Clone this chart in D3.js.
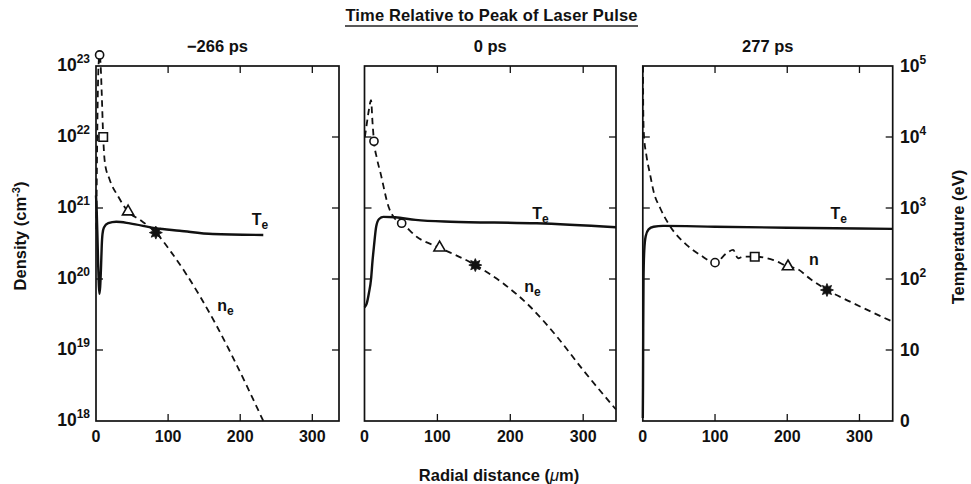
<!DOCTYPE html>
<html><head><meta charset="utf-8">
<script src="https://cdn.jsdelivr.net/npm/d3@7"></script>
<style>
body{margin:0;background:#fff}
text{font-family:"Liberation Sans",Arial,Helvetica,sans-serif;font-weight:bold;fill:#111}
</style>
</head><body>
<svg id="c" width="971" height="484"></svg>
<script>
// ---------------- data ----------------
const mainTitle = "Time Relative to Peak of Laser Pulse";
const panelTitles = ["\u2212266 ps", "0 ps", "277 ps"];
const xTickValues = [0, 100, 200, 300];
const densityExponents = [18, 19, 20, 21, 22, 23];
const tempTickLabels = [["0", ""], ["10", ""], ["10", "2"], ["10", "3"], ["10", "4"], ["10", "5"]];
const xMax = [337, 345, 346];

// electron temperature (eV) vs radial distance (um)
const te266 = [[0,1500],[1,900],[2,400],[3,160],[4,80],[4.8,62],[5.8,78],[7,150],[8,300],[9,430],[11,530],[17,610],[28,640],[47,608],[83,518],[116,479],[162,430],[232,417]];
const te0   = [[0,40],[3,45],[6,63],[9,100],[11,180],[13,290],[16,545],[20,700],[26,750],[42,740],[70,680],[118,641],[236,609],[345,535]];
const te277 = [[0,1.1],[0.3,3],[0.6,20],[1,100],[2,250],[4,400],[8,500],[15,545],[28,560],[100,545],[200,527],[346,508]];

// electron density (cm^-3) vs radial distance (um)
const ne266 = [[0.5,5e20],[1,2e21],[1.6,8e21],[2.5,4e22],[3.5,1e23],[5,1.43e23],[6.5,1e23],[8,4e22],[10,1e22],[12.4,4.3e21],[19,2.5e21],[31,1.44e21],[44.5,8.9e20],[61,6.8e20],[83,4.5e20],[104,2.41e20],[125,1.18e20],[145.6,5.4e19],[166.4,2.28e19],[187,9e18],[208,3.3e18],[232,1e18]];
const ne0   = [[0.5,1e22],[3,1.5e22],[6,2.4e22],[9,3.3e22],[11,1.6e22],[13,8.7e21],[17,5e21],[22,3.1e21],[33,1.04e21],[42,7e20],[51,6.1e20],[72,3.9e20],[103,2.76e20],[152,1.57e20],[190,8.7e19],[227,4.1e19],[264,1.54e19],[300,5.2e18],[345,1.45e18]];
const ne277 = [[0.3,1e23],[0.6,2.5e22],[1.5,1.1e22],[5,5.5e21],[10,3e21],[15,1.7e21],[24,1e21],[38,5.5e20],[61,3e20],[79,2.2e20],[100,1.7e20],[116,2.3e20],[125,2.57e20],[132,1.96e20],[139,2.06e20],[155,2.06e20],[181,1.85e20],[201,1.5e20],[213,1.4e20],[232,1e20],[255,7e19],[287,4.8e19],[346,2.5e19]];

// markers on density curves: [shape, x, density]
const mk266 = [["circle",5,1.43e23],["square",10,1e22],["triangle",44.5,8.9e20],["star",83,4.5e20]];
const mk0   = [["circle",13,8.7e21],["circle",51,6.1e20],["triangle",103,2.76e20],["star",152,1.57e20]];
const mk277 = [["circle",100,1.7e20],["square",155,2.06e20],["triangle",201,1.5e20],["star",255,7e19]];

// curve labels: [main, subscript, x, log10 density]
const lab266 = [["T","e",216,20.76],["n","e",168,19.55]];
const lab0   = [["T","e",230,20.85],["n","e",219,19.81]];
const lab277 = [["T","e",260,20.845],["n","",230,20.2]];

// ---------------- layout ----------------
const svg = d3.select("#c");
const yTop = 66, yBot = 421;
const lefts = [96, 364.5, 642.8], rights = [339, 616, 892.7];
const yDen = d3.scaleLog().domain([1e18, 1e23]).range([yBot, yTop]);
const yTem = d3.scaleLog().domain([1, 1e5]).range([yBot, yTop]);
const FS = 16.5;

const burst = {
  draw(ctx, size) {
    const R = Math.sqrt(size) * 0.62, r = R * 0.55, n = 8;
    for (let i = 0; i < 2 * n; i++) {
      const a = Math.PI * i / n, rr = i % 2 ? r : R;
      const px = rr * Math.sin(a), py = -rr * Math.cos(a);
      i ? ctx.lineTo(px, py) : ctx.moveTo(px, py);
    }
    ctx.closePath();
  }
};
const shapes = {circle: [d3.symbolCircle, 52], square: [d3.symbolSquare, 72], triangle: [d3.symbolTriangle, 55], star: [burst, 110]};

// main title
svg.append("text").attr("x", 491.5).attr("y", 20.5).attr("text-anchor", "middle")
  .attr("font-size", FS).attr("letter-spacing", 0.15).text(mainTitle);
svg.append("line").attr("x1", 345).attr("x2", 638).attr("y1", 26).attr("y2", 26)
  .attr("stroke", "#222").attr("stroke-width", 1.4);

const nes = [ne266, ne0, ne277], tes = [te266, te0, te277], mks = [mk266, mk0, mk277], labs = [lab266, lab0, lab277];

panelTitles.forEach((title, i) => {
  const L = lefts[i], R = rights[i];
  const x = d3.scaleLinear().domain([0, xMax[i]]).range([L, R]);
  const g = svg.append("g");

  g.append("text").attr("x", (L + R) / 2).attr("y", 52).attr("text-anchor", "middle")
    .attr("font-size", FS).text(title);

  // frame
  g.append("rect").attr("x", L).attr("y", yTop).attr("width", R - L).attr("height", yBot - yTop)
    .attr("fill", "none").attr("stroke", "#111").attr("stroke-width", 1.7);

  // x ticks (inward top & bottom)
  xTickValues.filter(v => v > 0).forEach(v => {
    g.append("line").attr("x1", x(v)).attr("x2", x(v)).attr("y1", yTop).attr("y2", yTop + 7).attr("stroke", "#111").attr("stroke-width", 1.3);
    g.append("line").attr("x1", x(v)).attr("x2", x(v)).attr("y1", yBot).attr("y2", yBot - 7).attr("stroke", "#111").attr("stroke-width", 1.3);
  });
  // y ticks (inward left & right)
  densityExponents.slice(1, -1).forEach(e => {
    const yy = yDen(Math.pow(10, e));
    g.append("line").attr("x1", L).attr("x2", L + 7).attr("y1", yy).attr("y2", yy).attr("stroke", "#111").attr("stroke-width", 1.3);
    g.append("line").attr("x1", R).attr("x2", R - 7).attr("y1", yy).attr("y2", yy).attr("stroke", "#111").attr("stroke-width", 1.3);
  });
  // x tick labels
  xTickValues.forEach(v => {
    g.append("text").attr("x", x(v)).attr("y", 441.5).attr("text-anchor", "middle").attr("font-size", 16).text(v);
  });

  // density (dashed)
  const lineN = d3.line().x(d => x(d[0])).y(d => yDen(d[1])).curve(d3.curveMonotoneX);
  g.append("path").attr("d", lineN(nes[i])).attr("fill", "none").attr("stroke", "#111")
    .attr("stroke-width", 1.8).attr("stroke-dasharray", "6.5,4.5");

  // markers
  mks[i].forEach(m => {
    const [type, size] = shapes[m[0]];
    const filled = m[0] === "star";
    g.append("path").attr("d", d3.symbol().type(type).size(size)())
      .attr("transform", `translate(${x(m[1])},${yDen(m[2])})`)
      .attr("fill", filled ? "#111" : "#fff").attr("stroke", "#111").attr("stroke-width", filled ? 0.8 : 1.6);
  });

  // temperature (solid)
  const lineT = d3.line().x(d => x(d[0])).y(d => yTem(d[1])).curve(d3.curveMonotoneX);
  g.append("path").attr("d", lineT(tes[i])).attr("fill", "none").attr("stroke", "#111")
    .attr("stroke-width", 2.4);

  // curve labels
  labs[i].forEach(l => {
    const t = g.append("text").attr("x", x(l[2])).attr("y", yDen(Math.pow(10, l[3]))).attr("font-size", 16);
    t.append("tspan").text(l[0]);
    if (l[1]) t.append("tspan").attr("dy", 4).attr("font-size", 12).text(l[1]);
  });
});

// left density axis labels
densityExponents.forEach(e => {
  const t = svg.append("text").attr("x", 90).attr("y", yDen(Math.pow(10, e)) + 4.5).attr("text-anchor", "end").attr("font-size", 17.5);
  t.append("tspan").text("10");
  t.append("tspan").attr("dy", -7.5).attr("font-size", 12).text(e);
});
// right temperature axis labels
tempTickLabels.forEach((lb, k) => {
  const t = svg.append("text").attr("x", 900).attr("y", yTem(Math.pow(10, k)) + 5.5).attr("text-anchor", "start").attr("font-size", 17.5);
  t.append("tspan").text(lb[0]);
  if (lb[1]) t.append("tspan").attr("dy", -7.5).attr("font-size", 12).text(lb[1]);
});

// axis titles
const yt = svg.append("text").attr("transform", "translate(26,236) rotate(-90)").attr("text-anchor", "middle").attr("font-size", FS);
yt.append("tspan").text("Density (cm");
yt.append("tspan").attr("dy", -6).attr("font-size", 11).text("-3");
yt.append("tspan").attr("dy", 6).text(")");

svg.append("text").attr("transform", "translate(964,237) rotate(-90)").attr("text-anchor", "middle")
  .attr("font-size", FS).text("Temperature (eV)");

const xt = svg.append("text").attr("x", 499).attr("y", 481).attr("text-anchor", "middle").attr("font-size", FS);
xt.append("tspan").text("Radial distance (");
xt.append("tspan").attr("font-weight", "normal").attr("font-style", "italic").text("\u03bc");
xt.append("tspan").text("m)");
</script>
</body></html>
